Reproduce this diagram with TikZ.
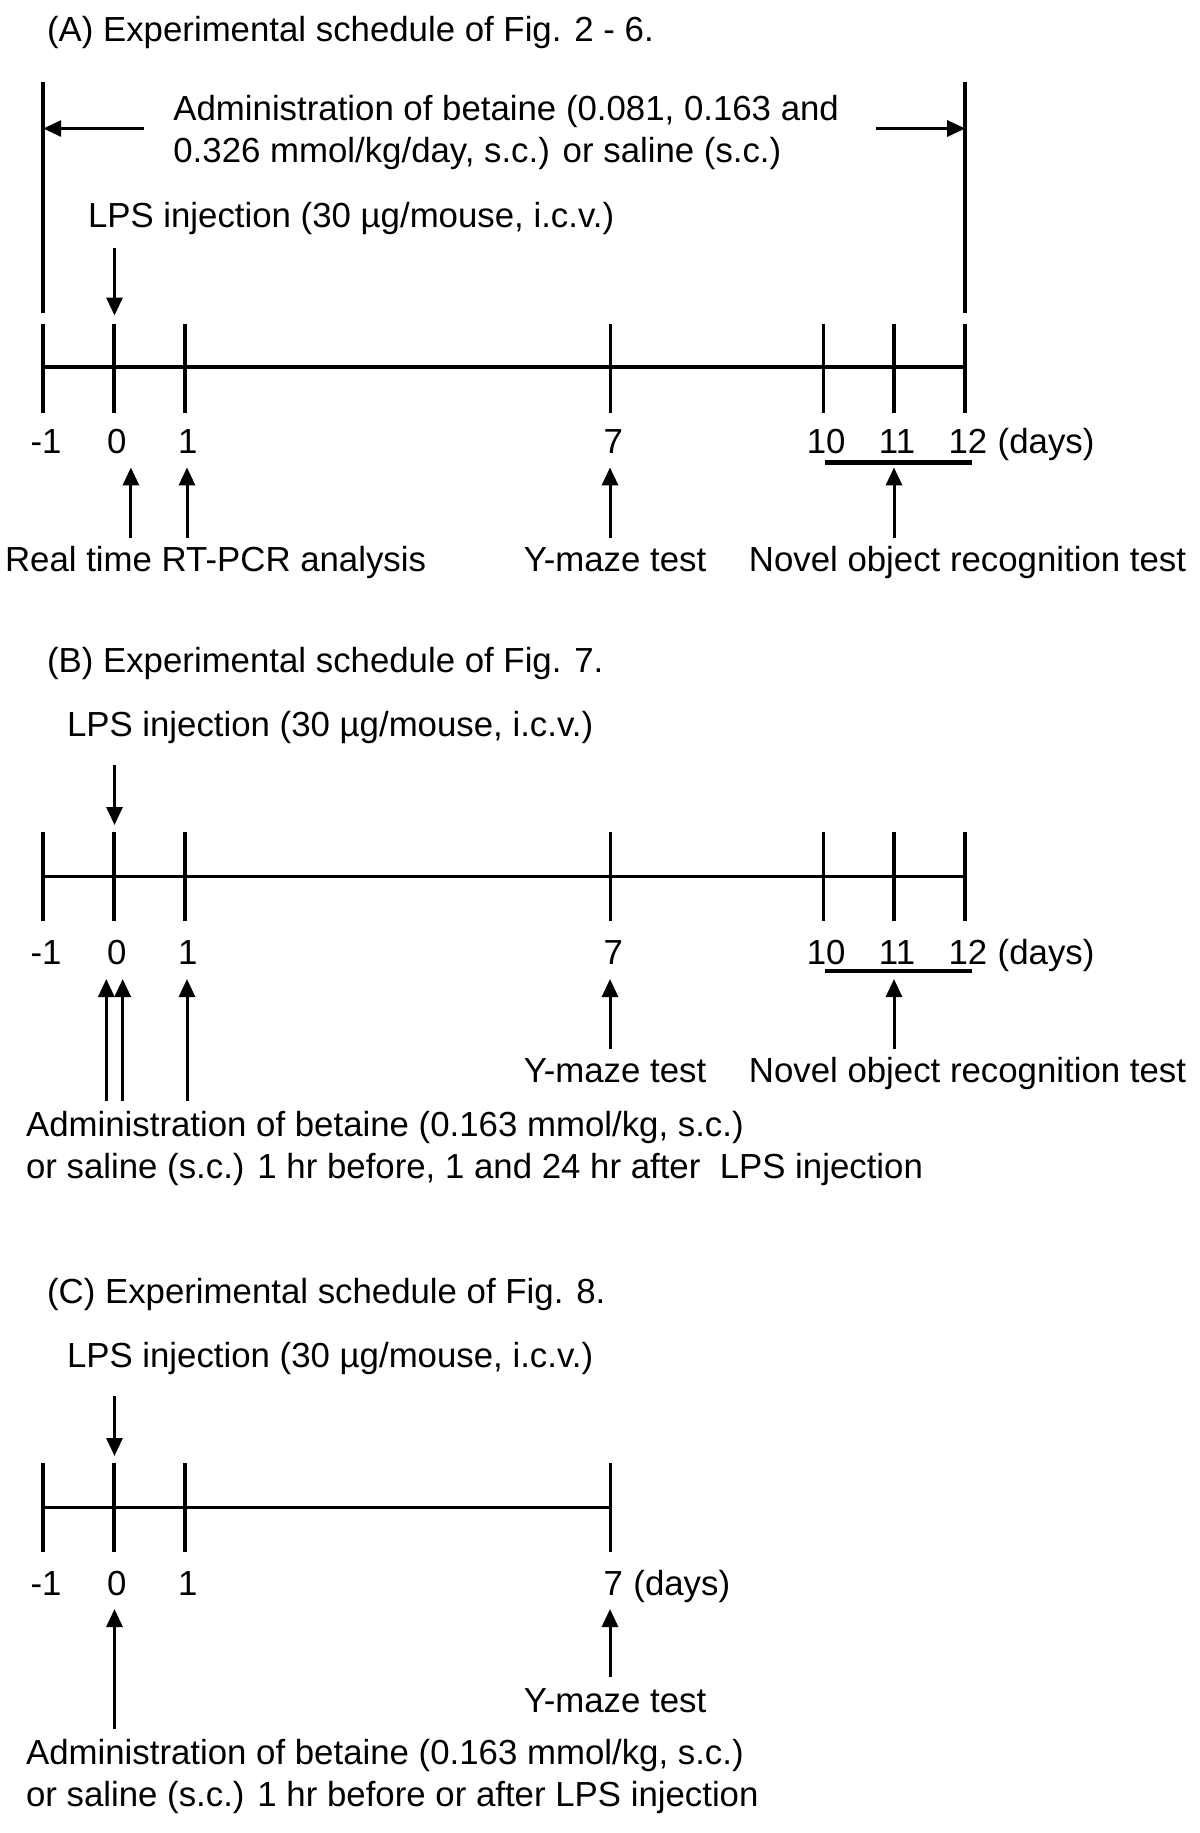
\documentclass[tikz,border=0pt]{standalone}
\usepackage{fontspec}
\setmainfont{Liberation Sans}
\usetikzlibrary{arrows.meta}

\begin{document}
\begin{tikzpicture}[x=0.5pt,y=-0.5pt,
  txt/.style={anchor=base west,inner sep=0pt,font=\fontsize{17.4}{21}\selectfont},
  num/.style={anchor=base,inner sep=0pt,font=\fontsize{17.4}{21}\selectfont},
  axis/.style={line width=1.8pt},
  arr/.style={line width=1.5pt,-{Triangle[width=8pt,length=9pt]}}]
  \useasboundingbox (0,0) rectangle (1200,1833);

  % (A)
  \node[txt] (titleA) at (46.7,41) {(A) Experimental schedule of Fig. 2 - 6.};
  \node[txt] (betA1) at (173,120.7) {Administration of betaine (0.081, 0.163 and};
  \node[txt] (betA2) at (173,162.7) {0.326 mmol/kg/day, s.c.) or saline (s.c.)};
  \node[txt] (lpsA) at (87.6,227) {LPS injection (30 µg/mouse, i.c.v.)};
  \foreach \d/\n in {-1/m1,0/0,1/1,7/7,10/10,11/11,12/12}
    {
    \coordinate (Atop\n) at ({43.2+70.92*(\d+1)},323.7);
    \coordinate (Abot\n) at ({43.2+70.92*(\d+1)},412.5);
    \coordinate (Aax\n) at ({43.2+70.92*(\d+1)},366.9);
    \draw[axis] (Atop\n) -- (Abot\n);
    \node[num] (Anum\n) at ({46+70.92*(\d+1)},453.7) {\d};
    }
  \draw[axis] (Aaxm1) -- (Aax12);
  \node[txt] (daysA) at ([xshift=4.8pt]Anum12.base east) {(days)};
  % span of betaine treatment
  \coordinate (spanLt) at (43.2,81.8);
  \coordinate (spanLb) at (43.2,313.2);
  \coordinate (spanRt) at (965.2,81.8);
  \coordinate (spanRb) at (965.2,313.2);
  \draw[axis] (spanLt) -- (spanLb);
  \draw[axis] (spanRt) -- (spanRb);
  \coordinate (spanL) at (43.2,128.5);
  \coordinate (spanR) at (965.2,128.5);
  \coordinate (arrLs) at (143.7,128.5);
  \coordinate (arrRs) at (876.4,128.5);
  \draw[arr] (arrLs) -- (spanL);
  \draw[arr] (arrRs) -- (spanR);
  \coordinate (lpsAs) at (114.5,247.7);
  \coordinate (lpsAe) at (114.5,315.5);
  \draw[arr] (lpsAs) -- (lpsAe);
  % tests
  \coordinate (ulAl) at (825,462.7);
  \coordinate (ulAr) at (972,462.7);
  \draw[line width=2.4pt] (ulAl) -- (ulAr);
  \node[txt] (pcrA) at (4.7,571.7) {Real time RT-PCR analysis};
  \node[num] (ymA) at (615,571.7) {Y-maze test};
  \node[num] (norA) at (967.5,571.7) {Novel object recognition test};
  \foreach \x/\n in {130.9/a,187/b,610/c,894/d}
    {
    \coordinate (Aups\n) at (\x,537.5);
    \coordinate (Aupe\n) at (\x,467.4);
    \draw[arr] (Aups\n) -- (Aupe\n);
    }

  % (B)
  \node[txt] (titleB) at (46.7,672) {(B) Experimental schedule of Fig. 7.};
  \node[txt] (lpsB) at (66.6,736.5) {LPS injection (30 µg/mouse, i.c.v.)};
  \foreach \d/\n in {-1/m1,0/0,1/1,7/7,10/10,11/11,12/12}
    {
    \coordinate (Btop\n) at ({43.2+70.92*(\d+1)},832);
    \coordinate (Bbot\n) at ({43.2+70.92*(\d+1)},920.8);
    \coordinate (Bax\n) at ({43.2+70.92*(\d+1)},876.4);
    \draw[axis] (Btop\n) -- (Bbot\n);
    \node[num] (Bnum\n) at ({46+70.92*(\d+1)},964.3) {\d};
    }
  \draw[axis] (Baxm1) -- (Bax12);
  \node[txt] (daysB) at ([xshift=4.8pt]Bnum12.base east) {(days)};
  \coordinate (lpsBs) at (114.5,765.4);
  \coordinate (lpsBe) at (114.5,825);
  \draw[arr] (lpsBs) -- (lpsBe);
  \coordinate (ulBl) at (825,971);
  \coordinate (ulBr) at (972,971);
  \draw[line width=2.4pt] (ulBl) -- (ulBr);
  \node[num] (ymB) at (615,1082.4) {Y-maze test};
  \node[num] (norB) at (967.5,1082.4) {Novel object recognition test};
  \foreach \x/\n in {610/c,894/d}
    {
    \coordinate (Bups\n) at (\x,1049.3);
    \coordinate (Bupe\n) at (\x,979);
    \draw[arr] (Bups\n) -- (Bupe\n);
    }
  \foreach \x/\n in {106.3/a,122.7/b,187/e}
    {
    \coordinate (Bups\n) at (\x,1100.7);
    \coordinate (Bupe\n) at (\x,979);
    \draw[arr] (Bups\n) -- (Bupe\n);
    }
  \node[txt] (betB1) at (25.7,1136) {Administration of betaine (0.163 mmol/kg, s.c.)};
  \node[txt] (betB2) at (25.7,1178) {or saline (s.c.) 1 hr before, 1 and 24 hr after~ LPS injection};

  % (C)
  \node[txt] (titleC) at (46.7,1303.2) {(C) Experimental schedule of Fig. 8.};
  \node[txt] (lpsC) at (66.6,1367.5) {LPS injection (30 µg/mouse, i.c.v.)};
  \foreach \d/\n in {-1/m1,0/0,1/1,7/7}
    {
    \coordinate (Ctop\n) at ({43.2+70.92*(\d+1)},1463);
    \coordinate (Cbot\n) at ({43.2+70.92*(\d+1)},1551.8);
    \coordinate (Cax\n) at ({43.2+70.92*(\d+1)},1507.4);
    \draw[axis] (Ctop\n) -- (Cbot\n);
    \node[num] (Cnum\n) at ({46+70.92*(\d+1)},1595.4) {\d};
    }
  \draw[axis] (Caxm1) -- (Cax7);
  \node[txt] (daysC) at ([xshift=4.8pt]Cnum7.base east) {(days)};
  \coordinate (lpsCs) at (114.5,1396.4);
  \coordinate (lpsCe) at (114.5,1456);
  \draw[arr] (lpsCs) -- (lpsCe);
  \coordinate (Cupsa) at (114.5,1729.4);
  \coordinate (Cupea) at (114.5,1609);
  \draw[arr] (Cupsa) -- (Cupea);
  \coordinate (Cupsc) at (610,1676.8);
  \coordinate (Cupec) at (610,1609);
  \draw[arr] (Cupsc) -- (Cupec);
  \node[num] (ymC) at (615,1712.2) {Y-maze test};
  \node[txt] (betC1) at (25.7,1764.8) {Administration of betaine (0.163 mmol/kg, s.c.)};
  \node[txt] (betC2) at (25.7,1806.8) {or saline (s.c.) 1 hr before or after LPS injection};
\end{tikzpicture}
\end{document}
